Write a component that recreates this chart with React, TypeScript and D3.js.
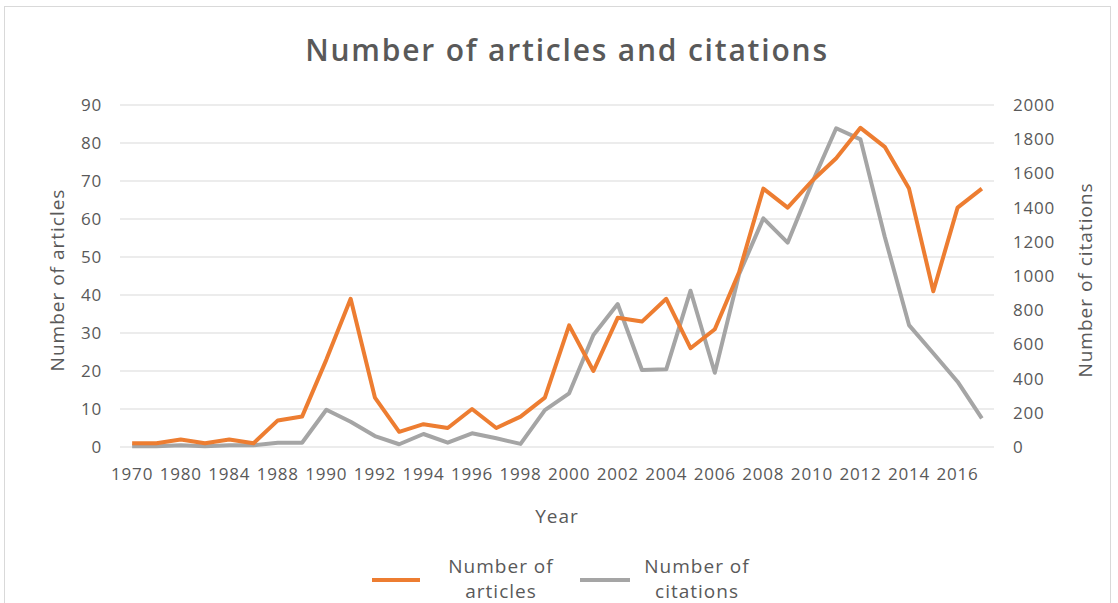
import * as d3 from "d3";
import React from "react";

const width = 1118;
const height = 603;
const margin = { top: 105, right: 124, bottom: 156, left: 120 };

// categories (the early years are not all consecutive)
const years = [
  "1970", "1979", "1980", "1982", "1984", "1986", "1988", "1989", "1990", "1991",
  "1992", "1993", "1994", "1995", "1996", "1997", "1998", "1999", "2000", "2001",
  "2002", "2003", "2004", "2005", "2006", "2007", "2008", "2009", "2010", "2011",
  "2012", "2013", "2014", "2015", "2016", "2017",
];
const articles = [
  1, 1, 2, 1, 2, 1, 7, 8, 23, 39, 13, 4, 6, 5, 10, 5, 8, 13, 32, 20, 34, 33, 39,
  26, 31, 46, 68, 63, 70, 76, 84, 79, 68, 41, 63, 68,
];
const citations = [
  5, 5, 10, 5, 10, 10, 25, 25, 218, 148, 64, 16, 76, 25, 80, 51, 18, 216, 314,
  655, 836, 450, 454, 914, 434, 1010, 1337, 1195, 1542, 1864, 1799, 1230, 713,
  548, 382, 168,
];
const leftTicks = [0, 10, 20, 30, 40, 50, 60, 70, 80, 90];
const rightTicks = [0, 200, 400, 600, 800, 1000, 1200, 1400, 1600, 1800, 2000];

const orange = "#ED7D31";
const gray = "#A5A5A5";
const textColor = "#595959";
const font = "'Open Sans', 'Noto Sans', sans-serif";

const App = () => {
  const x = d3
    .scaleBand()
    .domain(years)
    .range([margin.left, width - margin.right]);
  const yLeft = d3
    .scaleLinear()
    .domain([0, 90])
    .range([height - margin.bottom, margin.top]);
  const yRight = d3
    .scaleLinear()
    .domain([0, 2000])
    .range([height - margin.bottom, margin.top]);

  const cx = (d: string) => (x(d) as number) + x.bandwidth() / 2;

  const articleLine = d3
    .line<number>()
    .x((d, i) => cx(years[i]))
    .y((d) => yLeft(d));
  const citationLine = d3
    .line<number>()
    .x((d, i) => cx(years[i]))
    .y((d) => yRight(d));

  const titleMid = 280;
  const tickStyle = { fontSize: 17, letterSpacing: 0.8, fill: textColor };
  const labelStyle = { fontSize: 19, letterSpacing: 1, fill: textColor };

  return (
    <svg
      width={width}
      height={height}
      style={{ position: "absolute", left: 0, top: 0, background: "#fff" }}
      fontFamily={font}
    >
      <rect x={4.5} y={6.5} width={1106} height={620} fill="#fff" stroke="#d9d9d9" />

      <text
        x={567}
        y={61}
        textAnchor="middle"
        fontSize={30}
        fontWeight={600}
        letterSpacing={1.8}
        fill={textColor}
      >
        Number of articles and citations
      </text>

      {/* gridlines */}
      {leftTicks.map((t) => (
        <line
          key={t}
          x1={margin.left}
          x2={width - margin.right}
          y1={yLeft(t)}
          y2={yLeft(t)}
          stroke="#d9d9d9"
          strokeWidth={1}
        />
      ))}

      {/* left ticks */}
      {leftTicks.map((t) => (
        <text key={t} x={102} y={yLeft(t) + 6} textAnchor="end" {...tickStyle}>
          {t}
        </text>
      ))}
      {/* right ticks */}
      {rightTicks.map((t) => (
        <text key={t} x={1013} y={yRight(t) + 6} textAnchor="start" {...tickStyle}>
          {t}
        </text>
      ))}

      {/* x labels, every other category */}
      {years.map((d, i) =>
        i % 2 === 0 ? (
          <text key={d} x={cx(d)} y={480} textAnchor="middle" {...tickStyle}>
            {d}
          </text>
        ) : null
      )}

      <text transform={`translate(64, ${titleMid}) rotate(-90)`} textAnchor="middle" {...labelStyle}>
        Number of articles
      </text>
      <text transform={`translate(1092, ${titleMid}) rotate(-90)`} textAnchor="middle" {...labelStyle}>
        Number of citations
      </text>
      <text x={557} y={523} textAnchor="middle" {...labelStyle}>
        Year
      </text>

      {/* series */}
      <path d={citationLine(citations) || ""} fill="none" stroke={gray} strokeWidth={4} strokeLinejoin="round" />
      <path d={articleLine(articles) || ""} fill="none" stroke={orange} strokeWidth={4} strokeLinejoin="round" />

      {/* legend */}
      <line x1={372} x2={420} y1={580} y2={580} stroke={orange} strokeWidth={4} />
      <text x={501} y={573} textAnchor="middle" {...labelStyle}>
        Number of
      </text>
      <text x={501} y={598} textAnchor="middle" {...labelStyle}>
        articles
      </text>
      <line x1={580} x2={630} y1={580} y2={580} stroke={gray} strokeWidth={4} />
      <text x={697} y={573} textAnchor="middle" {...labelStyle}>
        Number of
      </text>
      <text x={697} y={598} textAnchor="middle" {...labelStyle}>
        citations
      </text>
    </svg>
  );
};

export default App;
